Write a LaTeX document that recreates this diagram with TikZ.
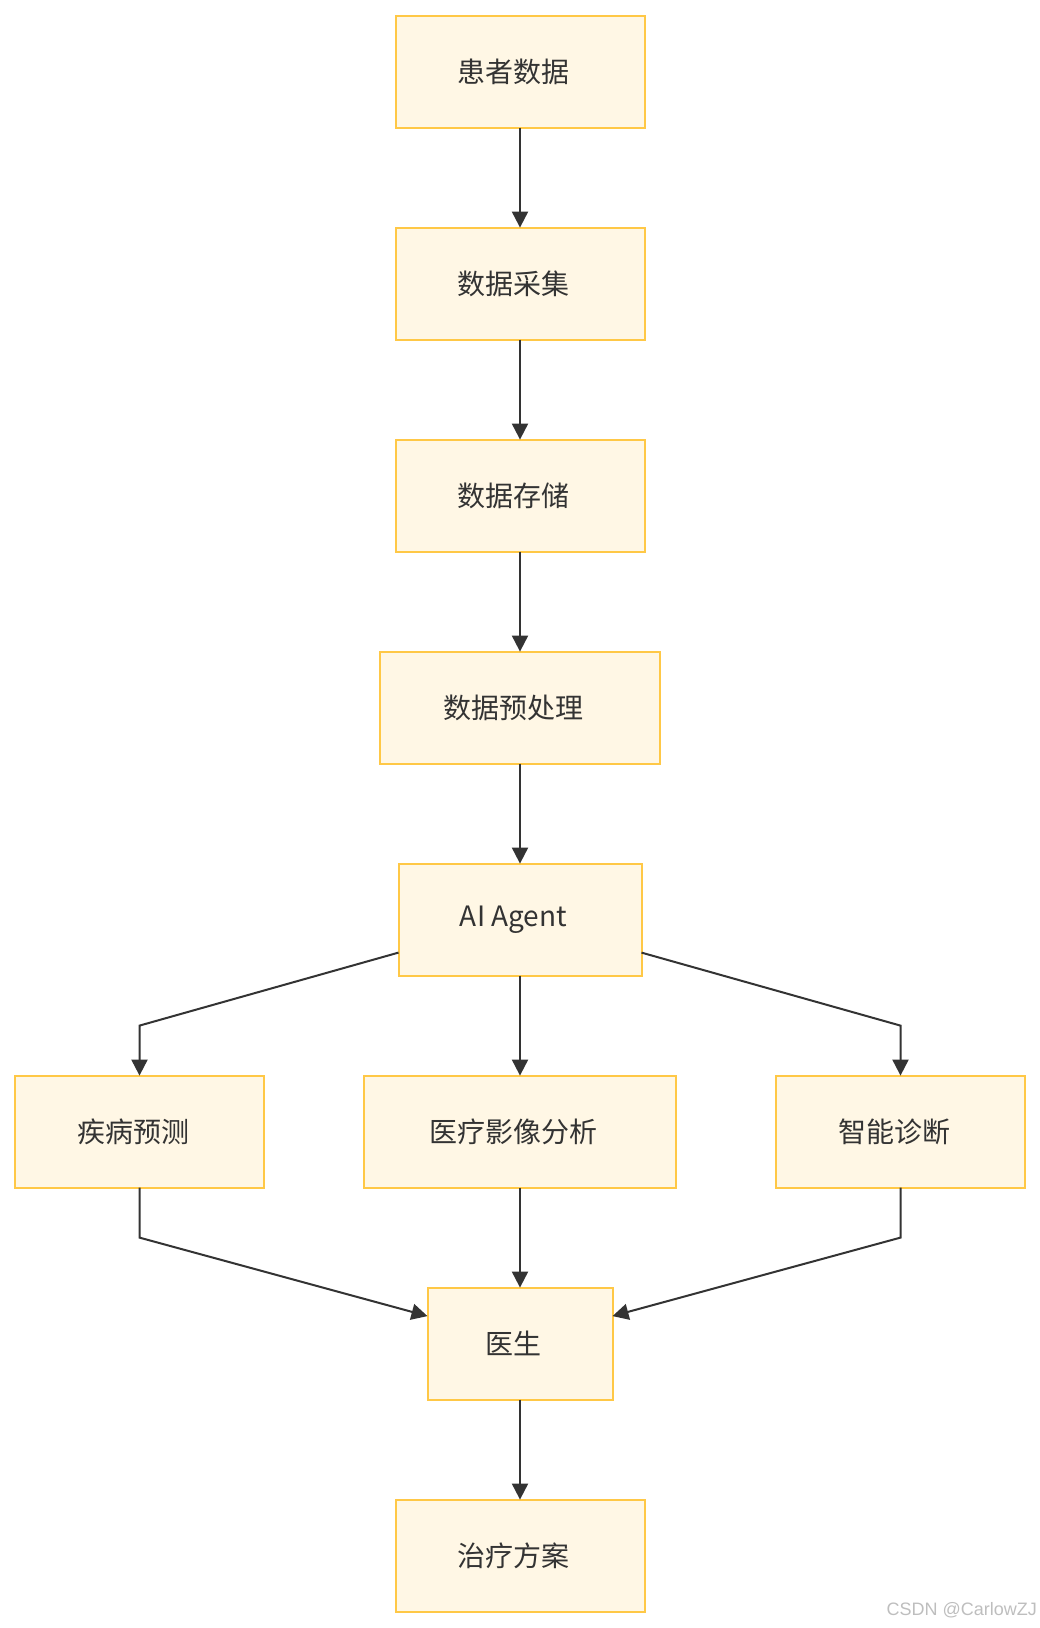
\documentclass[tikz,border=0pt]{standalone}
\usepackage{fontspec}
\newfontfamily\cjk{Noto Sans CJK SC}
\newfontfamily\marca{Liberation Sans}
\usepackage{xcolor}
\definecolor{borda}{RGB}{255,200,70}
\definecolor{fundo}{RGB}{255,247,229}
\definecolor{traco}{RGB}{51,51,51}
\definecolor{marcagris}{RGB}{190,190,190}
\usepackage{tikz}
\usetikzlibrary{arrows.meta,positioning}

\begin{document}
\begin{tikzpicture}[
            caixa/.style={draw=borda,fill=fundo,line width=2pt,outer sep=0pt,inner sep=0pt,
              minimum width=249pt,minimum height=112pt,
            font=\cjk\fontsize{28pt}{34pt}\selectfont,text=traco,
            execute at end node={\hspace*{13pt}}},
            seta/.style={-{Triangle[length=16pt,width=16pt]},traco,line width=2pt}
            ]
            \useasboundingbox (0,0) rectangle (1040pt,-1628pt);
            \node[caixa] at (520pt,-71.6pt)              (pac) {患者数据};
            \node[caixa,below=100pt of pac]              (col) {数据采集};
            \node[caixa,below=100pt of col]              (arm) {数据存储};
            \node[caixa,below=100pt of arm,
            minimum width=280pt]                         (pre) {数据预处理};
            \node[caixa,below=100pt of pre,
            minimum width=243pt]                         (ai)  {AI Agent};
            \node[caixa,below=100pt of ai,
            minimum width=312pt]                         (img) {医疗影像分析};
            \node[caixa,left=100pt of img]               (prev) {疾病预测};
            \node[caixa,right=100pt of img]              (diag) {智能诊断};
            \node[caixa,below=100pt of img,
            minimum width=185pt]                         (med) {医生};
            \node[caixa,below=100pt of med]              (trat) {治疗方案};
            \node[font=\marca\fontsize{18pt}{22pt}\selectfont,text=marcagris,
            anchor=south east,inner sep=0pt] at (1037pt,-1618pt) (wm) {CSDN @CarlowZJ};

            \draw[seta] (pac)--(col);
            \draw[seta] (col)--(arm);
            \draw[seta] (arm)--(pre);
            \draw[seta] (pre)--(ai);
            \draw[seta] (ai)--(img);
            \draw[seta] ([yshift=23pt]ai.south west) -- ([yshift=50pt]prev.north) -- (prev);
            \draw[seta] ([yshift=23pt]ai.south east) -- ([yshift=50pt]diag.north) -- (diag);
            \draw[seta] (img)--(med);
            \draw[seta] (prev) -- ([yshift=-50pt]prev.south) -- ([yshift=-28.5pt]med.north west);
            \draw[seta] (diag) -- ([yshift=-50pt]diag.south) -- ([yshift=-28.5pt]med.north east);
            \draw[seta] (med)--(trat);
          \end{tikzpicture}
\end{document}
